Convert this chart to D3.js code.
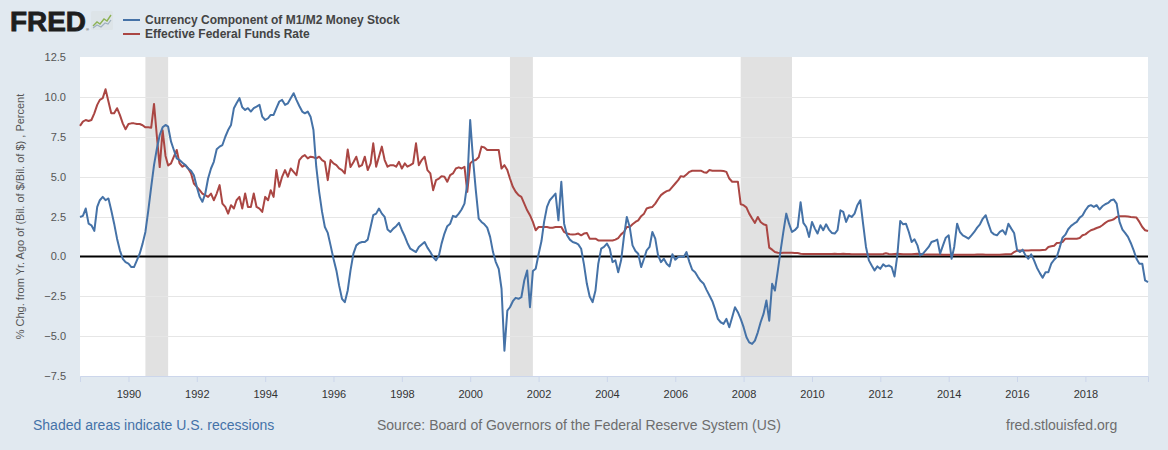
<!DOCTYPE html>
<html><head><meta charset="utf-8">
<script src="https://cdn.jsdelivr.net/npm/d3@7"></script>
<style>
html,body{margin:0;padding:0;background:#e1e9f0;}
svg{display:block;font-family:"Liberation Sans",Arial,sans-serif;}
</style></head><body>
<svg id="chart" width="1168" height="450"></svg>
<script>
const seriesNames = ["Currency Component of M1/M2 Money Stock", "Effective Federal Funds Rate"];
const seriesColors = ["#4572a7", "#aa4643"];
const firstMonth = "1988-08-01";
const lastMonth = "2019-11-01";

// % change from year ago, currency component of M1/M2 (monthly readings)
const currency = [
2.47,2.54,3.0,2.05,1.95,1.6,3.10,3.52,3.73,3.52,
3.63,2.89,2.05,1.11,0.38,-0.15,-0.36,-0.46,-0.67,-0.67,
-0.25,0.17,0.80,1.53,2.89,4.36,5.72,6.77,7.61,8.09,
8.24,8.13,7.19,6.67,6.14,6.04,5.87,5.72,5.51,5.37,
5.09,4.36,3.73,3.42,3.94,4.88,5.51,5.93,6.71,6.88,
6.98,7.50,7.92,8.24,9.29,9.60,9.92,9.35,9.18,9.29,
9.08,9.29,9.39,9.50,8.76,8.55,8.66,8.87,8.87,9.29,
9.71,9.81,9.50,9.60,9.92,10.23,9.81,9.43,9.08,8.97,
9.08,8.76,7.92,5.62,4.05,2.79,1.84,1.47,0.69,-0.15,
-0.88,-1.82,-2.66,-2.87,-2.14,-0.88,0.17,0.69,0.84,0.90,
0.90,1.05,1.84,2.58,2.68,3.0,2.68,2.47,1.68,1.53,
1.74,1.89,2.10,1.64,1.26,0.84,0.48,0.38,0.27,0.59,
0.75,0.90,0.55,0.27,-0.04,-0.25,0.06,0.80,1.43,1.89,
2.05,2.54,2.47,2.68,2.94,3.31,4.57,8.55,6.04,4.15,
2.37,2.16,2.01,1.80,1.22,0.27,-0.36,-0.78,-2.03,-5.91,
-3.40,-3.19,-2.81,-2.60,-2.66,-2.56,-1.51,-0.88,-3.19,-0.92,
-0.78,0.13,0.96,2.16,3.10,3.52,3.73,3.94,2.26,4.68,
2.05,1.32,1.05,0.90,0.84,0.75,0.48,-0.50,-1.72,-2.52,
-2.87,-2.14,-0.46,0.48,0.59,0.80,0.48,-0.36,-0.25,-0.99,
-0.25,1.22,2.47,1.84,0.69,0.34,0.17,-0.67,-0.15,0.38,
0.59,1.53,1.11,0.06,-0.36,-0.15,-0.46,-0.63,0.13,-0.21,
-0.04,0.0,-0.04,0.27,-0.36,-0.84,-0.99,-1.30,-1.55,-1.72,
-2.10,-2.45,-2.81,-3.29,-3.92,-4.13,-4.23,-3.92,-4.44,-3.82,
-3.19,-3.50,-3.92,-4.44,-5.07,-5.39,-5.49,-5.28,-4.76,-4.13,
-3.61,-2.77,-4.03,-1.72,-2.14,-0.88,0.42,1.53,2.68,2.05,
1.53,1.64,1.84,3.4,2.1,1.84,1.22,2.16,1.74,1.43,
1.95,1.64,2.01,1.68,1.47,1.43,1.64,2.89,2.79,2.16,
2.58,2.47,2.68,3.21,3.52,2.05,0.59,-0.25,-0.57,-0.88,
-0.63,-0.78,-0.50,-0.63,-0.57,-0.67,-1.26,0.06,2.22,2.01,
2.05,1.53,0.90,1.07,0.69,0.06,0.17,0.38,0.59,0.90,
0.96,1.05,0.17,0.69,1.17,1.32,-0.15,0.59,2.05,1.53,
1.32,1.22,1.11,1.32,1.53,1.80,2.01,2.37,2.58,2.05,
1.53,1.38,1.32,1.53,1.64,1.38,2.05,1.74,1.47,0.42,
0.27,0.42,0.06,-0.15,0.13,-0.25,-0.71,-1.05,-1.34,-0.99,
-0.99,-0.46,-0.21,-0.04,0.55,1.17,1.36,1.70,1.91,2.05,
2.16,2.43,2.56,2.89,3.14,3.21,3.10,3.21,2.94,3.14,
3.27,3.35,3.52,3.56,3.31,2.16,1.68,1.47,1.22,0.84,
0.38,-0.15,-0.46,-0.46,-1.51,-1.61
];

// Effective federal funds rate, percent (monthly readings)
const fedFunds = [
8.18,8.45,8.55,8.49,8.55,8.97,9.5,9.81,9.92,10.48,
9.71,8.97,8.97,9.29,8.87,8.34,7.97,8.30,8.34,8.34,
8.30,8.30,8.22,8.09,8.09,8.07,9.56,7.5,5.6,7.9,
6.3,5.7,5.83,6.25,6.67,5.83,5.62,5.72,5.51,5.2,
4.57,4.36,4.15,3.94,3.84,3.73,3.94,3.52,3.94,4.47,
3.31,3.10,2.68,3.21,3.0,3.52,3.73,3.0,3.94,3.10,
3.10,3.94,3.10,3.0,2.79,3.73,3.52,4.15,3.73,5.41,
4.36,4.99,5.41,4.99,5.51,5.30,5.09,6.04,6.25,6.35,
6.14,6.25,6.21,6.14,6.25,6.04,5.93,4.78,6.04,5.83,
5.72,5.51,5.41,5.2,6.7,5.6,5.9,6.25,5.62,5.72,
6.25,5.41,5.83,7.09,5.62,6.25,6.88,6.04,5.62,5.72,
5.72,5.62,5.93,5.51,5.83,5.62,5.72,5.83,7.09,5.72,
6.04,6.25,5.41,5.20,4.15,4.78,4.88,5.03,4.99,4.68,
5.09,5.20,5.51,5.58,5.51,5.62,4.05,5.83,6.0,6.04,
6.21,6.88,6.83,6.67,6.67,6.67,6.67,6.67,5.51,5.72,
5.41,4.88,4.36,4.05,3.84,3.73,3.31,2.89,2.58,2.16,
1.64,1.84,1.84,1.84,1.84,1.80,1.80,1.84,1.84,1.84,
1.53,1.43,1.39,1.37,1.39,1.43,1.32,1.43,1.47,1.11,
1.11,1.11,1.0,1.0,1.0,1.0,1.0,1.0,1.05,1.15,
1.38,1.53,1.84,1.84,2.01,2.16,2.26,2.52,2.68,3.0,
3.06,3.10,3.31,3.58,3.84,3.98,4.09,4.15,4.36,4.57,
4.78,5.03,4.99,5.14,5.30,5.37,5.37,5.37,5.37,5.28,
5.24,5.41,5.37,5.37,5.37,5.37,5.35,5.30,4.88,4.68,
4.68,4.68,3.27,3.21,3.06,2.68,2.37,2.10,2.47,2.16,
2.01,1.95,0.55,0.42,0.27,0.23,0.21,0.23,0.23,0.23,
0.23,0.21,0.21,0.17,0.15,0.15,0.15,0.15,0.15,0.15,
0.15,0.15,0.15,0.15,0.15,0.17,0.15,0.15,0.17,0.15,
0.15,0.13,0.13,0.13,0.13,0.13,0.13,0.13,0.13,0.13,
0.13,0.13,0.15,0.2,0.15,0.13,0.15,0.17,0.15,0.13,
0.13,0.13,0.13,0.15,0.17,0.15,0.13,0.11,0.11,0.11,
0.11,0.11,0.11,0.10,0.10,0.10,0.10,0.10,0.10,0.10,
0.10,0.10,0.10,0.10,0.10,0.11,0.11,0.11,0.10,0.10,
0.10,0.10,0.10,0.10,0.12,0.13,0.13,0.13,0.27,0.36,
0.37,0.37,0.37,0.37,0.38,0.38,0.38,0.39,0.40,0.41,
0.59,0.63,0.67,0.84,0.86,0.90,1.11,1.11,1.11,1.11,
1.11,1.15,1.32,1.38,1.53,1.64,1.70,1.78,1.84,1.95,
2.10,2.22,2.26,2.33,2.47,2.52,2.52,2.52,2.50,2.47,
2.45,2.43,2.16,1.84,1.64,1.59
];

const recessionStarts = ["1990-07-01", "2001-03-01", "2007-12-01"];
const recessionEnds = ["1991-03-01", "2001-11-01", "2009-06-01"];
const yTicks = [-7.5, -5, -2.5, 0, 2.5, 5, 7.5, 10, 12.5];
const xTickYears = [1990,1992,1994,1996,1998,2000,2002,2004,2006,2008,2010,2012,2014,2016,2018];
const yAxisTitle = "% Chg. from Yr. Ago of (Bil. of $/Bil. of $) , Percent";
const footLeft = "Shaded areas indicate U.S. recessions";
const footMid = "Source: Board of Governors of the Federal Reserve System (US)";
const footRight = "fred.stlouisfed.org";

const parse = d3.timeParse("%Y-%m-%d");
const t0 = parse(firstMonth);
const monthDate = i => d3.timeMonth.offset(t0, i);

const svg = d3.select("#chart");
const plot = {left: 80, right: 1148, top: 57, bottom: 376};

const x = d3.scaleTime().domain([t0, parse(lastMonth)]).range([plot.left, plot.right]);
const y = d3.scaleLinear().domain([-7.5, 12.5]).range([plot.bottom, plot.top]);

// plot background
svg.append("rect").attr("x", plot.left).attr("y", plot.top)
  .attr("width", plot.right - plot.left).attr("height", plot.bottom - plot.top)
  .attr("fill", "#ffffff");

// recessions
svg.append("g").selectAll("rect").data(recessionStarts).join("rect")
  .attr("x", (d) => x(parse(d)))
  .attr("width", (d, i) => x(parse(recessionEnds[i])) - x(parse(d)))
  .attr("y", plot.top).attr("height", plot.bottom - plot.top)
  .attr("fill", "#e1e1e1");

// horizontal grid
svg.append("g").selectAll("line").data(yTicks.filter(v => v > -7.5 && v < 12.5)).join("line")
  .attr("x1", plot.left).attr("x2", plot.right)
  .attr("y1", d => Math.round(y(d)) + 0.5).attr("y2", d => Math.round(y(d)) + 0.5)
  .attr("stroke", "#e6e6e6").attr("stroke-width", 1);

// x axis
const xAxis = d3.axisBottom(x)
  .tickValues(xTickYears.map(yr => new Date(yr, 0, 1)))
  .tickFormat(d3.timeFormat("%Y"))
  .tickSize(6).tickPadding(8);
const gx = svg.append("g").attr("transform", `translate(0,${plot.bottom})`).call(xAxis);
gx.select(".domain").attr("stroke", "#ccd6eb");
gx.selectAll(".tick line").attr("stroke", "#ccd6eb");
gx.selectAll(".tick text").attr("fill", "#333").attr("font-size", 11)
  .attr("font-family", "'Liberation Sans',Arial,sans-serif");

// y axis labels
const yAxis = d3.axisLeft(y).tickValues(yTicks).tickFormat(d3.format(".1f")).tickSize(0).tickPadding(14);
const gy = svg.append("g").attr("transform", `translate(${plot.left},0)`).call(yAxis);
gy.select(".domain").remove();
gy.selectAll(".tick text").attr("fill", "#555").attr("font-size", 11)
  .attr("font-family", "'Liberation Sans',Arial,sans-serif");

// y axis title
svg.append("text")
  .attr("transform", `translate(24,${(plot.top + plot.bottom) / 2}) rotate(-90)`)
  .attr("text-anchor", "middle").attr("font-size", 11).attr("fill", "#555")
  .text(yAxisTitle);

// zero line
svg.append("line").attr("x1", plot.left).attr("x2", plot.right)
  .attr("y1", y(0)).attr("y2", y(0)).attr("stroke", "#000").attr("stroke-width", 2);

// series
const line = d3.line().x((d, i) => x(monthDate(i))).y(d => y(d));
[fedFunds, currency].forEach((vals, k) => {
  const ci = k === 0 ? 1 : 0;
  svg.append("path").datum(vals).attr("d", line)
    .attr("fill", "none").attr("stroke", seriesColors[ci])
    .attr("stroke-width", 2).attr("stroke-linejoin", "round");
});

// FRED logo
svg.append("text").attr("x", 10).attr("y", 31).attr("font-size", 27).attr("font-weight", "bold")
  .attr("fill", "#1e1e1e").attr("textLength", 76).attr("lengthAdjust", "spacingAndGlyphs")
  .attr("stroke", "#1e1e1e").attr("stroke-width", 0.8).text("FRED");
svg.append("text").attr("x", 86).attr("y", 31).attr("font-size", 4).attr("fill", "#222").text("®");
const logo = svg.append("g").attr("transform", "translate(91,11)");
logo.append("rect").attr("width", 22).attr("height", 19).attr("rx", 1.5).attr("fill", "#dde4e8");
logo.append("polyline").attr("points", "2,15 6,11 9,13 13,8 16,10 20,4")
  .attr("fill", "none").attr("stroke", "#8db255").attr("stroke-width", 1.4);
logo.append("polyline").attr("points", "2,17 6,14 10,16 14,12 17,13 20,9")
  .attr("fill", "none").attr("stroke", "#9fb0bf").attr("stroke-width", 1.2);

// legend
seriesNames.forEach((name, i) => {
  const ly = 20 + i * 14;
  svg.append("line").attr("x1", 123).attr("x2", 140).attr("y1", ly).attr("y2", ly)
    .attr("stroke", seriesColors[i]).attr("stroke-width", 2);
  svg.append("text").attr("x", 145).attr("y", ly + 4).attr("font-size", 12).attr("font-weight", "bold")
    .attr("fill", "#444").text(name);
});

// footer
svg.append("text").attr("x", 33).attr("y", 430).attr("font-size", 14).attr("fill", "#4472a8").text(footLeft);
svg.append("text").attr("x", 377).attr("y", 430).attr("font-size", 14).attr("fill", "#6d6d6d").text(footMid);
svg.append("text").attr("x", 1006).attr("y", 430).attr("font-size", 14).attr("fill", "#6d6d6d").text(footRight);
</script>
</body></html>
